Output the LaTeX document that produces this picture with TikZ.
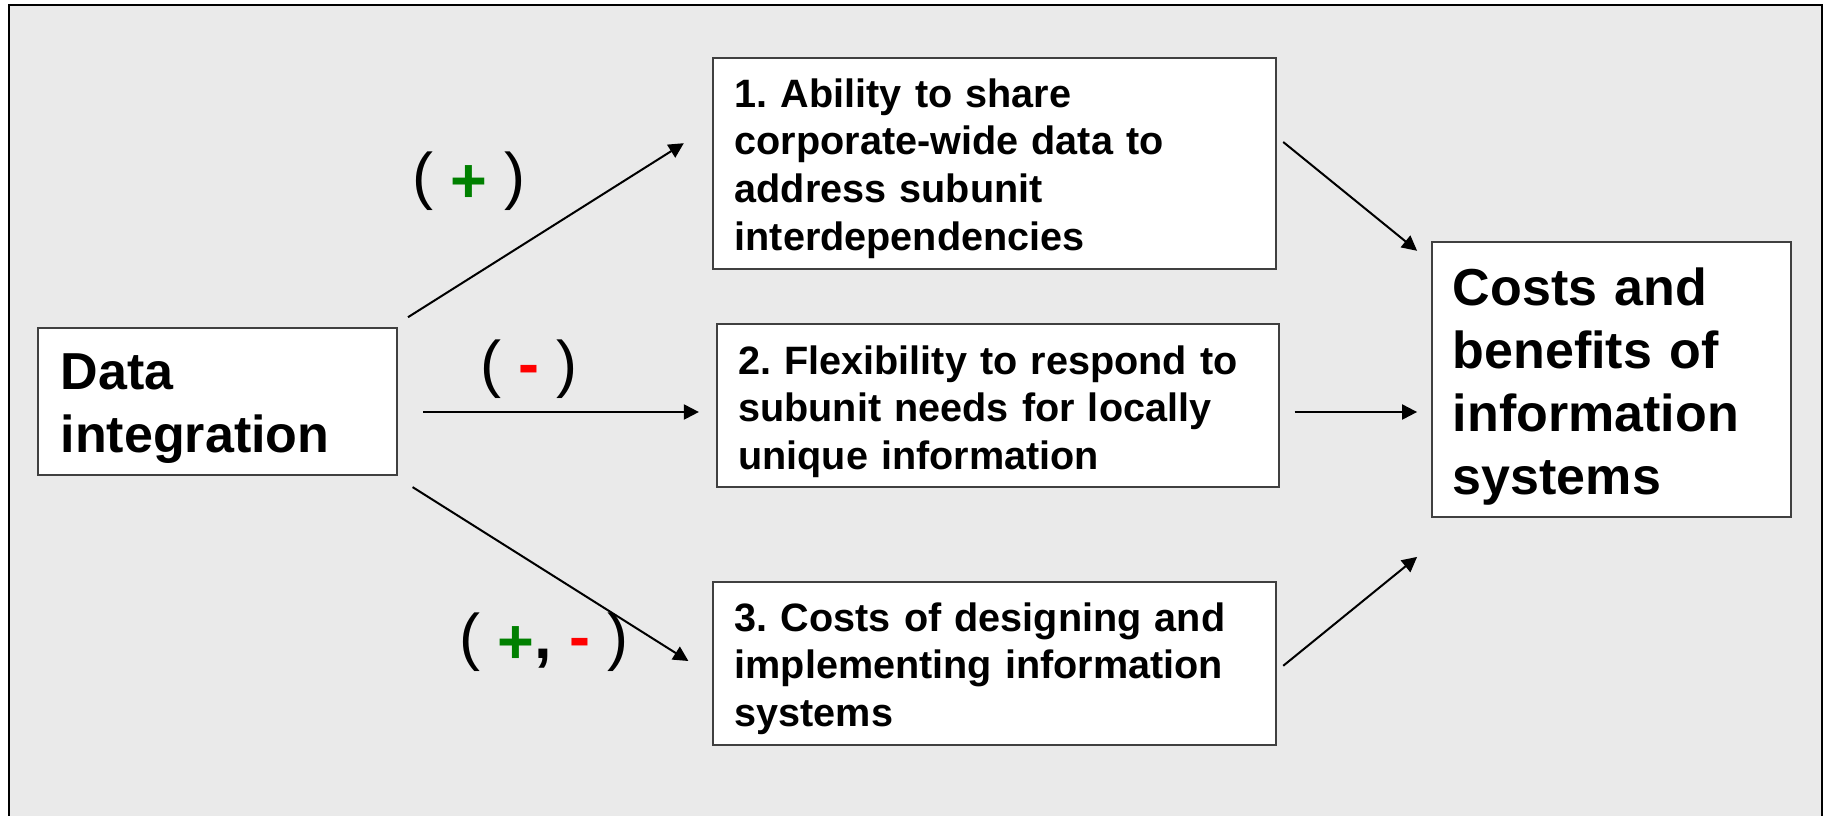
\documentclass[tikz,border=0pt]{standalone}
\usepackage{fontspec}
\setmainfont{Liberation Sans}
\usetikzlibrary{arrows.meta,calc}
\definecolor{bg}{HTML}{EAEAEA}
\definecolor{plusg}{HTML}{008000}
\definecolor{minusr}{HTML}{FF0000}
\frenchspacing
\newcommand{\plussign}{\raisebox{-5pt}{\textcolor{plusg}{\textbf{+}}}}
\newcommand{\minussign}{\textcolor{minusr}{\textbf{-}}}
\begin{document}
\begin{tikzpicture}[x=1pt,y=-1pt,
  box/.style={draw=black!75, line width=1.2pt, fill=white, rectangle, inner sep=0pt},
  txt/.style={anchor=base west, align=left, inner sep=0pt, text width=540pt, font=\fontsize{39.6}{47.7}\selectfont\bfseries},
  bigtxt/.style={anchor=base west, align=left, inner sep=0pt, text width=340pt, font=\fontsize{52}{63}\selectfont\bfseries},
  sign/.style={anchor=base, inner sep=0pt, font=\fontsize{63}{70}\selectfont},
  arr/.style={line width=2pt, -{Triangle[length=15pt,width=15pt]}}]
\useasboundingbox (0,0) rectangle (1825,815);
\fill[white] (0,0) rectangle (1825,815);
\draw[fill=bg, line width=2pt] (9,5) rectangle (1822,840);
% boxes
\node[box, minimum width=359pt, minimum height=147pt] (di) at (217.5,401.5) {};
\node[box, minimum width=563pt, minimum height=211pt] (b1) at (994.5,163.5) {};
\node[box, minimum width=562pt, minimum height=163pt] (b2) at (998,405.5) {};
\node[box, minimum width=563pt, minimum height=163pt] (b3) at (994.5,663.5) {};
\node[box, minimum width=359pt, minimum height=275pt] (cb) at (1611.5,379.5) {};
% texts
\node[bigtxt] (dit) at (60.5,389) {Data\\integration};
\node[bigtxt] (cbt) at (1452.6,305) {Costs and\\benefits of\\information\\systems};
\node[txt] (b1t) at (734.5,107) {1. Ability to share\\corporate-wide data to\\address subunit\\interdependencies};
\node[txt] (b2t) at (738,374) {2. Flexibility to respond to\\subunit needs for locally\\unique information};
\node[txt] (b3t) at (734.5,631) {3. Costs of designing and\\implementing information\\systems};
% signs
\node[sign] (s1) at (469,197.5) {( \plussign{} )};
\node[sign] (s2) at (529,385) {( \minussign{} )};
\node[sign] (s3) at (544,658) {( \plussign{}\textbf{,} \minussign{} )};
% arrows
\draw[arr] ($(di.north east)+(10.4,-10.2)$) -- ($(b1.west)+(-28.6,-20.3)$);
\draw[arr] ($(di.east)+(25.5,10.5)$) -- ($(b2.west)+(-17.5,6.5)$);
\draw[arr] ($(di.south east)+(15,11.5)$) -- ($(b3.west)+(-24,-2.5)$);
\draw[arr] ($(b1.east)+(6.6,-21.5)$) -- ($(cb.north west)+(-14.3,9.4)$);
\draw[arr] ($(b2.east)+(15,6.5)$) -- ($(cb.west)+(-14.3,32.5)$);
\draw[arr] ($(b3.east)+(6.6,2.3)$) -- ($(cb.south west)+(-14.3,39.3)$);
\end{tikzpicture}
\end{document}
